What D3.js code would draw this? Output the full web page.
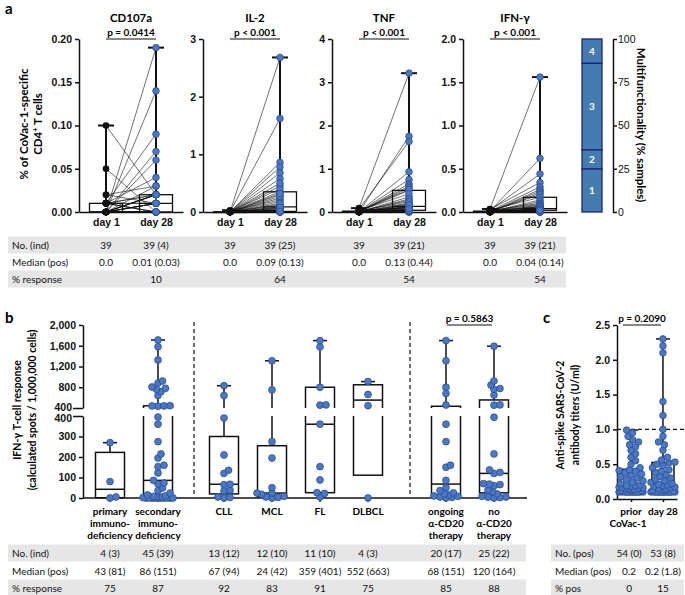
<!DOCTYPE html>
<html>
<head>
<meta charset="utf-8">
<script src="https://cdn.jsdelivr.net/npm/d3@7"></script>
<style>
body { margin: 0; background: #fff; }
svg { font-family: Lato, "Open Sans", sans-serif; }
</style>
</head>
<body>
<div id="chart"></div>
<script>
// ---- panel a data (39 patients, day 1 / day 28 pairs) ----
const cytokines = ["CD107a", "IL-2", "TNF", "IFN-γ"];
const pValuesA = ["p = 0.0414", "p < 0.001", "p < 0.001", "p < 0.001"];
const yMaxA = [0.2, 3, 4, 2];
const yTicksA = [[0, 0.05, 0.1, 0.15, 0.2], [0, 1, 2, 3], [0, 1, 2, 3, 4], [0, 0.5, 1, 1.5, 2]];
const tickFmtA = [".2f", "d", "d", ".1f"];

const cd107aDay1 = [0.10, 0.05, 0.02, 0.02, 0.01, 0.01, 0.01, 0.01, 0.01, 0.01, 0.01, 0.01, 0.01,
  0, 0, 0, 0, 0, 0, 0, 0, 0, 0, 0, 0, 0, 0, 0, 0, 0, 0, 0, 0, 0, 0, 0, 0, 0, 0];
const cd107aDay28 = [0.02, 0.00, 0.03, 0.01, 0.09, 0.00, 0.02, 0.01, 0.04, 0.00, 0.02, 0.01, 0.00,
  0.19, 0.14, 0.07, 0.06, 0.03, 0.02, 0.01, 0.02, 0.00, 0.01, 0.02, 0.00, 0.01, 0.00, 0.02, 0.00,
  0.01, 0.00, 0.01, 0.00, 0.00, 0.00, 0.00, 0.00, 0.02, 0.00];

const il2Day1 = [0.01, 0, 0, 0.02, 0, 0, 0.01, 0, 0, 0, 0.01, 0, 0, 0, 0.03, 0, 0, 0.01, 0, 0,
  0, 0, 0.01, 0, 0, 0, 0, 0.01, 0, 0, 0, 0, 0.01, 0, 0, 0, 0, 0, 0];
const il2Day28 = [0.21, 0, 2.68, 0.01, 0.05, 0.45, 0, 0.13, 0.02, 1.62, 0.01, 0.30, 0.07, 0.86, 0,
  0.03, 0.24, 0.01, 0.58, 0.09, 0.02, 0.35, 0.11, 0, 0.78, 0.04, 0.18, 0.01, 0.68, 0.06, 0.27, 0,
  0.40, 0.15, 0.03, 0.50, 0.08, 0.01, 0.32];

const tnfDay1 = [0.09, 0, 0.01, 0, 0.02, 0, 0.07, 0, 0.01, 0.02, 0, 0, 0.05, 0, 0.01, 0.03, 0, 0,
  0.02, 0, 0.04, 0, 0.01, 0, 0, 0.02, 0, 0.03, 0, 0.01, 0, 0, 0.02, 0, 0.01, 0, 0, 0, 0];
const tnfDay28 = [3.21, 0.12, 0, 1.75, 0.27, 0.02, 1.63, 0.06, 0.50, 0.01, 0.93, 0.19, 0.03, 0.75,
  0, 0.10, 0.65, 0.35, 0.04, 0.60, 0.08, 0.13, 0.56, 0, 0.21, 0.52, 0.02, 0.42, 0.11, 0.09, 0.30,
  0.01, 0.24, 0.05, 0.15, 0.12, 0.03, 0.17, 0.07];

const ifnDay1 = [0.035, 0, 0.01, 0, 0.02, 0, 0.03, 0, 0.01, 0, 0, 0.02, 0, 0.01, 0, 0, 0.01, 0,
  0.02, 0, 0, 0.01, 0, 0, 0.02, 0, 0.01, 0, 0, 0.01, 0, 0, 0.01, 0, 0, 0, 0, 0, 0];
const ifnDay28 = [1.56, 0.03, 0.62, 0, 0.44, 0.04, 0.34, 0.01, 0.29, 0.02, 0.26, 0.05, 0.24, 0.03,
  0.22, 0, 0.20, 0.06, 0.17, 0.02, 0.14, 0.01, 0.12, 0.03, 0.10, 0.04, 0.09, 0, 0.08, 0.02, 0.07,
  0.01, 0.06, 0.03, 0.04, 0, 0.03, 0.01, 0.02];

const day1A = [cd107aDay1, il2Day1, tnfDay1, ifnDay1];
const day28A = [cd107aDay28, il2Day28, tnfDay28, ifnDay28];

const noIndA = [["39", "39 (4)"], ["39", "39 (25)"], ["39", "39 (21)"], ["39", "39 (21)"]];
const medianA = [["0.0", "0.01 (0.03)"], ["0.0", "0.09 (0.13)"], ["0.0", "0.13 (0.44)"], ["0.0", "0.04 (0.14)"]];
const responseA = ["10", "64", "54", "54"];

// multifunctionality (% samples)
const multiLevels = ["1", "2", "3", "4"];
const multiShares = [25, 11, 50, 14];

// ---- panel b data ----
const catLabelsB = [["primary", "immuno-", "deficiency"], ["secondary", "immuno-", "deficiency"],
  ["CLL"], ["MCL"], ["FL"], ["DLBCL"], ["ongoing", "α-CD20", "therapy"], ["no", "α-CD20", "therapy"]];
const spotsB = [
  [270, 80, 5, 0],
  [0, 0, 0, 0, 0, 0, 0, 0, 0, 0, 2, 3, 5, 5, 8, 10, 15, 24, 36, 49, 68, 73, 86, 122, 153, 160, 195,
    215, 275, 360, 395, 435, 440, 440, 445, 640, 715, 760, 780, 805, 880, 920, 1325, 1582, 1711],
  [830, 640, 390, 210, 135, 120, 67, 65, 38, 35, 5, 3, 0],
  [1310, 750, 275, 195, 50, 24, 24, 18, 8, 5, 3, 0],
  [1700, 1580, 800, 460, 455, 360, 153, 88, 26, 22, 5],
  [910, 660, 445, 0],
  [0, 3, 5, 8, 10, 15, 20, 25, 36, 50, 86, 150, 160, 275, 360, 458, 680, 800, 1310, 1700],
  [0, 2, 4, 5, 8, 20, 30, 38, 60, 65, 68, 70, 120, 125, 137, 215, 394, 455, 460, 650, 760, 775, 843, 920, 1590]
];
const lowerTicksB = [0, 100, 200, 300, 400];
const upperTicksB = [400, 800, 1200, 1600, 2000];
const noIndB = ["4 (3)", "45 (39)", "13 (12)", "12 (10)", "11 (10)", "4 (3)", "20 (17)", "25 (22)"];
const medianB = ["43 (81)", "86 (151)", "67 (94)", "24 (42)", "359 (401)", "552 (663)", "68 (151)", "120 (164)"];
const responseB = ["75", "87", "92", "83", "91", "75", "85", "88"];

// ---- panel c data ----
const groupsC = ["prior", "day 28"];
const titerPrior = [0.10, 0.10, 0.10, 0.10, 0.10, 0.10, 0.10, 0.10, 0.10, 0.10, 0.10, 0.10, 0.10, 0.10,
  0.11, 0.12, 0.12, 0.13, 0.14, 0.14, 0.15, 0.15, 0.16, 0.17, 0.17, 0.18, 0.19, 0.19, 0.20, 0.22,
  0.24, 0.26, 0.28, 0.30, 0.32, 0.34, 0.36, 0.38, 0.40, 0.41, 0.42, 0.45, 0.50, 0.55, 0.60, 0.65,
  0.70, 0.75, 0.78, 0.82, 0.85, 0.90, 0.95, 0.99];
const titerDay28 = [0.10, 0.10, 0.10, 0.10, 0.10, 0.10, 0.10, 0.10, 0.10, 0.10, 0.10, 0.10, 0.10, 0.10,
  0.10, 0.11, 0.12, 0.13, 0.14, 0.15, 0.16, 0.17, 0.18, 0.19, 0.20, 0.21, 0.22, 0.24, 0.26, 0.28,
  0.30, 0.32, 0.35, 0.38, 0.40, 0.42, 0.45, 0.48, 0.50, 0.52, 0.53, 0.56, 0.60, 0.70, 0.78, 0.82,
  0.90, 1.00, 1.20, 1.40, 2.10, 2.20, 2.30];
const titersC = [titerPrior, titerDay28];
const noPosC = ["54 (0)", "53 (8)"];
const medianC = ["0.2", "0.2 (1.8)"];
const posC = ["0", "15"];

// ---- helpers ----
const DOT = "#4a78c2", DOT_EDGE = "#2b4d96";

// Prism-style quantile, position (n+1)p
function quant(vals, p) {
  const s = vals.slice().sort((a, b) => a - b), n = s.length;
  const pos = (n + 1) * p;
  if (pos <= 1) return s[0];
  if (pos >= n) return s[n - 1];
  const lo = Math.floor(pos), f = pos - lo;
  return s[lo - 1] + f * (s[lo] - s[lo - 1]);
}
function stats(vals) {
  return { min: d3.min(vals), q1: quant(vals, 0.25), med: quant(vals, 0.5), q3: quant(vals, 0.75), max: d3.max(vals) };
}

// simple deterministic beeswarm
function swarm(vals, yFn, cx, r, maxOff, overlap) {
  const pts = vals.map(v => ({ v: v, y: yFn(v) })).sort((a, b) => b.y - a.y);
  const placed = [];
  const cands = [0];
  for (let k = 1; k * 1.5 <= maxOff; k++) cands.push(k * 1.5, -k * 1.5);
  pts.forEach(p => {
    let best = 0, bestD = -1;
    for (const dx of cands) {
      let minD = Infinity;
      for (const q of placed) {
        const d = Math.hypot(q.x - (cx + dx), q.y - p.y);
        if (d < minD) minD = d;
      }
      if (minD >= 2 * r * overlap) { best = dx; bestD = Infinity; break; }
      if (minD > bestD) { bestD = minD; best = dx; }
    }
    p.x = cx + best;
    placed.push(p);
  });
  return placed;
}

function styleAxis(g) {
  g.select(".domain").attr("stroke", "#111").attr("stroke-width", 1.5);
  g.selectAll(".tick line").attr("stroke", "#111").attr("stroke-width", 1.5);
  g.selectAll(".tick text").attr("fill", "#111").attr("font-size", 10.5).attr("font-weight", 700);
}

const svg = d3.select("#chart")
  .append("svg")
  .attr("width", 685)
  .attr("height", 595);

function panelLetter(t, x, y) {
  svg.append("text").attr("x", x).attr("y", y).attr("font-size", 15).attr("font-weight", 700).text(t);
}

function tableRows(labels, yRows, x0, x1, labelX) {
  yRows.forEach((yy, i) => {
    if (i !== 1) {
      svg.append("rect").attr("x", x0).attr("y", yy - 8.5).attr("width", x1 - x0).attr("height", 17)
        .attr("fill", "#e6e6e6");
    }
    svg.append("text").attr("x", labelX).attr("y", yy + 3.5).attr("font-size", 10).attr("fill", "#111")
      .text(labels[i]);
  });
}
function cell(t, x, y) {
  svg.append("text").attr("x", x).attr("y", y + 3.5).attr("text-anchor", "middle")
    .attr("font-size", 10).attr("fill", "#111").text(t);
}

// ================= panel a =================
panelLetter("a", 5, 14);
const aX = [79, 203, 332, 463];
const aTop = 39, aBot = 212, aW = 104;
const rowsA = [245, 262, 279];
tableRows(["No. (ind)", "Median (pos)", "% response"], rowsA, 8, 566, 12);

cytokines.forEach((name, i) => {
  const x0 = aX[i];
  const y = d3.scaleLinear().domain([0, yMaxA[i]]).range([aBot, aTop]);
  const x = d3.scalePoint().domain(["day 1", "day 28"]).range([x0, x0 + aW]).padding(0.54);
  const g = svg.append("g");

  g.append("g").attr("transform", `translate(${x0},0)`)
    .call(d3.axisLeft(y).tickValues(yTicksA[i]).tickFormat(d3.format(tickFmtA[i])).tickSize(4).tickSizeOuter(0))
    .call(styleAxis);
  g.append("g").attr("transform", `translate(0,${aBot})`)
    .call(d3.axisBottom(x).tickSize(3).tickSizeOuter(0).tickPadding(4))
    .call(styleAxis);

  // title and p value
  g.append("text").attr("x", x0 + aW / 2).attr("y", 22).attr("text-anchor", "middle")
    .attr("font-size", 11.5).attr("font-weight", 700).text(name);
  g.append("line").attr("x1", x("day 1")).attr("x2", x("day 28")).attr("y1", aTop).attr("y2", aTop)
    .attr("stroke", "#111").attr("stroke-width", 1);
  g.append("text").attr("x", (x("day 1") + x("day 28")) / 2).attr("y", aTop - 3).attr("text-anchor", "middle")
    .attr("font-size", 10).attr("font-weight", 700).text(pValuesA[i]);

  const d1 = day1A[i], d28 = day28A[i];
  // paired lines
  g.selectAll(".pair").data(d1.map((v, k) => [v, d28[k]])).enter().append("line")
    .attr("x1", x("day 1")).attr("x2", x("day 28"))
    .attr("y1", d => y(d[0])).attr("y2", d => y(d[1]))
    .attr("stroke", "#111").attr("stroke-width", 0.6);

  // boxes
  [["day 1", d1], ["day 28", d28]].forEach(([key, vals]) => {
    const s = stats(vals), cx = x(key), bw = 33;
    g.append("rect").attr("x", cx - bw / 2).attr("y", y(s.q3)).attr("width", bw)
      .attr("height", Math.max(0.5, y(s.q1) - y(s.q3))).attr("fill", "none").attr("stroke", "#111").attr("stroke-width", 1.3);
    g.append("line").attr("x1", cx - bw / 2).attr("x2", cx + bw / 2).attr("y1", y(s.med)).attr("y2", y(s.med))
      .attr("stroke", "#111").attr("stroke-width", 1.3);
    g.append("line").attr("x1", cx).attr("x2", cx).attr("y1", y(s.q3)).attr("y2", y(s.max))
      .attr("stroke", "#111").attr("stroke-width", 2);
    g.append("line").attr("x1", cx - 8).attr("x2", cx + 8).attr("y1", y(s.max)).attr("y2", y(s.max))
      .attr("stroke", "#111").attr("stroke-width", 2);
  });

  // dots
  g.selectAll(".d1").data(d1).enter().append("circle")
    .attr("cx", x("day 1")).attr("cy", d => y(d)).attr("r", 3.3).attr("fill", "#111");
  g.selectAll(".d28").data(d28).enter().append("circle")
    .attr("cx", x("day 28")).attr("cy", d => y(d)).attr("r", 3.3)
    .attr("fill", DOT).attr("stroke", DOT_EDGE).attr("stroke-width", 0.8);

  // table cells
  cell(noIndA[i][0], x("day 1"), rowsA[0]);
  cell(noIndA[i][1], x("day 28"), rowsA[0]);
  cell(medianA[i][0], x("day 1"), rowsA[1]);
  cell(medianA[i][1], x("day 28"), rowsA[1]);
  cell(responseA[i], x("day 28"), rowsA[2]);
});

// y label a
const yla = svg.append("text").attr("transform", "translate(28,124) rotate(-90)").attr("text-anchor", "middle")
  .attr("font-size", 11.5).attr("font-weight", 700);
yla.append("tspan").attr("x", 0).attr("y", 0).text("% of CoVac-1-specific");
yla.append("tspan").attr("x", 0).attr("y", 14).text("CD4");
yla.append("tspan").attr("font-size", 7.5).attr("dy", -4).text("+");
yla.append("tspan").attr("dy", 4).text(" T cells");

// multifunctionality bar
const yM = d3.scaleLinear().domain([0, 100]).range([aBot, aTop]);
let acc = 0;
multiShares.forEach((v, i) => {
  const lo = acc, hi = acc + v; acc = hi;
  svg.append("rect").attr("x", 582).attr("y", yM(hi)).attr("width", 20).attr("height", yM(lo) - yM(hi))
    .attr("fill", "#457cb0").attr("stroke", "#1a2580").attr("stroke-width", 1.3);
  svg.append("text").attr("x", 592).attr("y", yM((lo + hi) / 2) + 4).attr("text-anchor", "middle")
    .attr("fill", "#fff").attr("font-size", 10).attr("font-weight", 700).text(multiLevels[i]);
});
svg.append("g").attr("transform", "translate(613,0)")
  .call(d3.axisRight(yM).tickValues([0, 25, 50, 75, 100]).tickSize(4).tickSizeOuter(0).tickPadding(1))
  .call(styleAxis)
  .call(g => g.selectAll(".tick text").attr("font-weight", 400));
svg.append("text").attr("transform", "translate(637,125) rotate(90)").attr("text-anchor", "middle")
  .attr("font-size", 11.5).attr("font-weight", 700).text("Multifunctionality (% samples)");

// ================= panel b =================
panelLetter("b", 5, 323);
const slotB = [0, 1, 2.375, 3.375, 4.375, 5.375, 7, 8];
const xB = d3.scaleLinear().domain([0, 8]).range([110, 494]);
const yL = d3.scaleLinear().domain([0, 400]).range([498, 416]);
const yU = d3.scaleLinear().domain([400, 2000]).range([408, 325]);
const yBoth = v => v > 400 ? yU(v) : yL(v);

const defs = svg.append("defs");
defs.append("clipPath").attr("id", "clipL").append("rect").attr("x", 84).attr("y", 416).attr("width", 450).attr("height", 83);
defs.append("clipPath").attr("id", "clipU").append("rect").attr("x", 84).attr("y", 300).attr("width", 450).attr("height", 108);

const axL = svg.append("g").attr("transform", "translate(83,0)")
  .call(d3.axisLeft(yL).tickValues(lowerTicksB).tickSize(4).tickSizeOuter(0)).call(styleAxis);
const axU = svg.append("g").attr("transform", "translate(83,0)")
  .call(d3.axisLeft(yU).tickValues(upperTicksB).tickFormat(d3.format(",")).tickSize(4).tickSizeOuter(0)).call(styleAxis);
// longer break ticks at 400
[axL, axU].forEach(a => a.selectAll(".tick").filter(d => d === 400).select("line").attr("x2", -10));
[axL, axU].forEach(a => a.selectAll(".tick").filter(d => d === 400).select("text").attr("x", -11));
axU.selectAll(".tick").filter(d => d === 400).select("text").attr("dy", "0.2em");
axL.selectAll(".tick").filter(d => d === 400).select("text").attr("dy", "0.5em");

svg.append("line").attr("x1", 83).attr("x2", 527).attr("y1", 498).attr("y2", 498)
  .attr("stroke", "#111").attr("stroke-width", 1.5);

// dashed separators
[194, 410].forEach(xx => {
  svg.append("line").attr("x1", xx).attr("x2", xx).attr("y1", 322).attr("y2", 497)
    .attr("stroke", "#222").attr("stroke-width", 1.3).attr("stroke-dasharray", "4,3");
});

// p value b
svg.append("line").attr("x1", 447).attr("x2", 492).attr("y1", 325).attr("y2", 325).attr("stroke", "#111");
svg.append("text").attr("x", 469.5).attr("y", 322).attr("text-anchor", "middle")
  .attr("font-size", 10).attr("font-weight", 700).text("p = 0.5863");

const rowsB = [553, 571, 588];
tableRows(["No. (ind)", "Median (pos)", "% response"], rowsB, 8, 526, 12);

spotsB.forEach((vals, i) => {
  const cx = xB(slotB[i]), bw = 29, s = stats(vals);
  [["clipL", yL], ["clipU", yU]].forEach(([clip, ys]) => {
    const g = svg.append("g").attr("clip-path", `url(#${clip})`);
    g.append("rect").attr("x", cx - bw / 2).attr("y", ys(s.q3)).attr("width", bw).attr("height", ys(s.q1) - ys(s.q3))
      .attr("fill", "none").attr("stroke", "#111").attr("stroke-width", 1.5);
    g.append("line").attr("x1", cx - bw / 2).attr("x2", cx + bw / 2).attr("y1", ys(s.med)).attr("y2", ys(s.med))
      .attr("stroke", "#111").attr("stroke-width", 1.5);
    g.append("line").attr("x1", cx).attr("x2", cx).attr("y1", ys(s.q3)).attr("y2", ys(s.max))
      .attr("stroke", "#111").attr("stroke-width", 1.5);
    g.append("line").attr("x1", cx - 7).attr("x2", cx + 7).attr("y1", ys(s.max)).attr("y2", ys(s.max))
      .attr("stroke", "#111").attr("stroke-width", 1.5);
  });
  // tick under category
  svg.append("line").attr("x1", cx).attr("x2", cx).attr("y1", 498).attr("y2", 502).attr("stroke", "#111").attr("stroke-width", 1.5);
  const pts = swarm(vals, yBoth, cx, 3.4, 15, 0.7);
  svg.selectAll(null).data(pts).enter().append("circle")
    .attr("cx", d => d.x).attr("cy", d => d.y).attr("r", 3.4)
    .attr("fill", DOT).attr("stroke", DOT_EDGE).attr("stroke-width", 0.8);
  // labels
  catLabelsB[i].forEach((t, k) => {
    svg.append("text").attr("x", cx).attr("y", 515 + k * 12).attr("text-anchor", "middle")
      .attr("font-size", 10).attr("font-weight", 700).text(t);
  });
  cell(noIndB[i], cx, rowsB[0]);
  cell(medianB[i], cx, rowsB[1]);
  cell(responseB[i], cx, rowsB[2]);
});

const ylb = svg.append("text").attr("transform", "translate(21,410) rotate(-90)").attr("text-anchor", "middle")
  .attr("font-size", 10.5).attr("font-weight", 700);
ylb.append("tspan").attr("x", 0).attr("y", 0).text("IFN-γ T-cell response");
ylb.append("tspan").attr("x", 0).attr("y", 15).text("(calculated spots / 1,000,000 cells)");

// ================= panel c =================
panelLetter("c", 543, 323);
const yC = d3.scaleLinear().domain([0, 2.5]).range([499, 325]);
const xC = d3.scalePoint().domain(groupsC).range([617, 677]).padding(0.44);
svg.append("g").attr("transform", "translate(617,0)")
  .call(d3.axisLeft(yC).ticks(5).tickFormat(d3.format(".1f")).tickSize(4).tickSizeOuter(0)).call(styleAxis);
svg.append("g").attr("transform", "translate(0,499)")
  .call(d3.axisBottom(xC).tickSize(3).tickSizeOuter(0).tickFormat(""))
  .call(styleAxis);
svg.append("line").attr("x1", 617).attr("x2", 684).attr("y1", yC(1)).attr("y2", yC(1))
  .attr("stroke", "#111").attr("stroke-width", 1.3).attr("stroke-dasharray", "4,3");
svg.append("line").attr("x1", 623).attr("x2", 661).attr("y1", 325).attr("y2", 325).attr("stroke", "#111");
svg.append("text").attr("x", 642).attr("y", 322).attr("text-anchor", "middle")
  .attr("font-size", 10).attr("font-weight", 700).text("p = 0.2090");

titersC.forEach((vals, i) => {
  const cx = xC(groupsC[i]), bw = 22, s = stats(vals);
  svg.append("rect").attr("x", cx - bw / 2).attr("y", yC(s.q3)).attr("width", bw).attr("height", yC(s.q1) - yC(s.q3))
    .attr("fill", "none").attr("stroke", "#111").attr("stroke-width", 1.5);
  svg.append("line").attr("x1", cx - bw / 2).attr("x2", cx + bw / 2).attr("y1", yC(s.med)).attr("y2", yC(s.med))
    .attr("stroke", "#111").attr("stroke-width", 1.5);
  svg.append("line").attr("x1", cx).attr("x2", cx).attr("y1", yC(s.q3)).attr("y2", yC(s.max))
    .attr("stroke", "#111").attr("stroke-width", 1.5);
  svg.append("line").attr("x1", cx - 7).attr("x2", cx + 7).attr("y1", yC(s.max)).attr("y2", yC(s.max))
    .attr("stroke", "#111").attr("stroke-width", 1.5);
  const pts = swarm(vals, yC, cx, 3.3, 12, 0.85);
  svg.selectAll(null).data(pts).enter().append("circle")
    .attr("cx", d => d.x).attr("cy", d => d.y).attr("r", 3.3)
    .attr("fill", DOT).attr("stroke", DOT_EDGE).attr("stroke-width", 0.8);
});
svg.append("text").attr("x", xC("prior")).attr("y", 515).attr("text-anchor", "middle")
  .attr("font-size", 10).attr("font-weight", 700).text("prior");
svg.append("text").attr("x", xC("prior") - 3).attr("y", 527).attr("text-anchor", "middle")
  .attr("font-size", 10).attr("font-weight", 700).text("CoVac-1");
svg.append("text").attr("x", xC("day 28")).attr("y", 515).attr("text-anchor", "middle")
  .attr("font-size", 10).attr("font-weight", 700).text("day 28");

const ylc = svg.append("text").attr("transform", "translate(564,415) rotate(-90)").attr("text-anchor", "middle")
  .attr("font-size", 10.5).attr("font-weight", 700);
ylc.append("tspan").attr("x", 0).attr("y", 0).text("Anti-spike SARS-CoV-2");
ylc.append("tspan").attr("x", 0).attr("y", 15).text("antibody titers (U/ml)");

const rowsC = rowsB;
tableRows(["No. (pos)", "Median (pos)", "% pos"], rowsC, 551, 684, 555);
[noPosC, medianC, posC].forEach((row, r) => {
  row.forEach((t, i) => cell(t, xC(groupsC[i]) - (i === 0 ? 2 : 0), rowsC[r]));
});
</script>
</body>
</html>
